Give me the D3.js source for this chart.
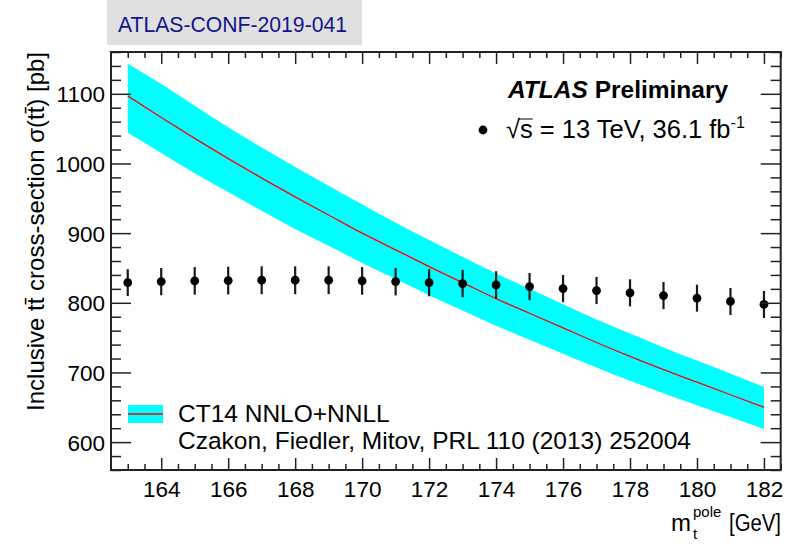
<!DOCTYPE html>
<html>
<head>
<meta charset="utf-8">
<script src="https://cdn.jsdelivr.net/npm/d3@7"></script>
<style>
  html, body { margin: 0; padding: 0; background: #fff; }
  svg { display: block; font-family: "Liberation Sans", Arial, Helvetica, sans-serif; }
</style>
</head>
<body>
<svg id="chart" width="800" height="544"></svg>
<script>
// Top-quark pole mass points [GeV]
const massPoints = [163,164,165,166,167,168,169,170,171,172,173,174,175,176,177,178,179,180,181,182];
// Measured inclusive ttbar cross-section [pb] and its uncertainty
const measured = [829.0,830.4,831.4,831.9,832.4,832.4,832.4,831.4,830.4,829.0,827.6,825.7,823.3,820.4,817.6,814.3,810.4,806.7,801.9,797.6];
const measuredErr = [19.3,19.6,19.8,19.9,20.0,20.0,20.0,19.9,19.8,19.7,19.7,19.6,19.6,19.5,19.5,19.5,19.5,19.4,19.4,19.4];
// CT14 NNLO+NNLL prediction: central value and band edges [pb]
const theoryCentral = [1097,1066,1036,1007,979,952,926,900,876,852,829,806,785,764,743,723,704,686,668,650];
const theoryUp      = [1143,1114,1083,1052,1023,995,968,941,915,890,866,842,820,798,776,756,736,717,698,679];
const theoryDown    = [1044,1015,986,959,932,906,882,857,834,811,789,767,747,727,707,688,670,653,636,619];
// Axis ticks
const xMajorTicks = [164,166,168,170,172,174,176,178,180,182];
const xMinorTicks = [163,163.5,164.5,165,165.5,166.5,167,167.5,168.5,169,169.5,170.5,171,171.5,172.5,173,173.5,174.5,175,175.5,176.5,177,177.5,178.5,179,179.5,180.5,181,181.5,182.5];
const yMajorTicks = [600,700,800,900,1000,1100];
const yMinorTicks = [560,580,620,640,660,680,720,740,760,780,820,840,860,880,920,940,960,980,1020,1040,1060,1080,1120,1140,1160];

const svg = d3.select("#chart");
const L = 111, R = 780.7, T = 52, B = 470;
const x = d3.scaleLinear().domain([162.5, 182.5]).range([L, R]);
const y = d3.scaleLinear().domain([560, 1160]).range([B, T]);

const theory = massPoints.map((m, i) => ({m, c: theoryCentral[i], up: theoryUp[i], dn: theoryDown[i]}));
const data = massPoints.map((m, i) => ({m, v: measured[i], e: measuredErr[i]}));

// conference note tag
svg.append("rect").attr("x", 107).attr("y", 0).attr("width", 255).attr("height", 45).attr("fill", "#e0e0e0");
svg.append("text").attr("x", 118).attr("y", 32).attr("font-size", 21.5).attr("fill", "#14148c")
  .attr("textLength", 229).attr("lengthAdjust", "spacingAndGlyphs")
  .text("ATLAS-CONF-2019-041");

// prediction band and central curve
svg.append("path").datum(theory)
  .attr("fill", "#00ffff")
  .attr("d", d3.area().x(d => x(d.m)).y0(d => y(d.dn)).y1(d => y(d.up)).curve(d3.curveMonotoneX));
svg.append("path").datum(theory)
  .attr("fill", "none").attr("stroke", "#ff0000").attr("stroke-width", 1.3)
  .attr("d", d3.line().x(d => x(d.m)).y(d => y(d.c)).curve(d3.curveMonotoneX));

// measured points with error bars
const pts = svg.append("g");
pts.selectAll("line").data(data).join("line")
  .attr("x1", d => x(d.m)).attr("x2", d => x(d.m))
  .attr("y1", d => y(d.v - d.e)).attr("y2", d => y(d.v + d.e))
  .attr("stroke", "#1a1a1a").attr("stroke-width", 2.2);
pts.selectAll("circle").data(data).join("circle")
  .attr("cx", d => x(d.m)).attr("cy", d => y(d.v)).attr("r", 4.4).attr("fill", "#000");

// axes with inward ticks on all four sides
function tickAxis(axisFn, scale, vals, size, pos, labels) {
  const a = axisFn(scale).tickValues(vals).tickSizeInner(-size).tickSizeOuter(0);
  a.tickFormat(labels ? d3.format("d") : "");
  const g = svg.append("g").attr("transform", pos).call(a);
  g.select(".domain").remove();
  g.selectAll(".tick line").attr("stroke", "#222").attr("stroke-width", 1.5);
  return g;
}
const xb = tickAxis(d3.axisBottom, x, xMajorTicks, 12, `translate(0,${B})`, true);
tickAxis(d3.axisBottom, x, xMinorTicks, 6, `translate(0,${B})`, false);
tickAxis(d3.axisTop, x, xMajorTicks, 12, `translate(0,${T})`, false);
tickAxis(d3.axisTop, x, xMinorTicks, 6, `translate(0,${T})`, false);
const yl = tickAxis(d3.axisLeft, y, yMajorTicks, 20, `translate(${L},0)`, true);
tickAxis(d3.axisLeft, y, yMinorTicks, 10, `translate(${L},0)`, false);
tickAxis(d3.axisRight, y, yMajorTicks, 20, `translate(${R},0)`, false);
tickAxis(d3.axisRight, y, yMinorTicks, 10, `translate(${R},0)`, false);

xb.selectAll(".tick text").attr("font-size", 22.5).attr("fill", "#000").attr("y", 11).attr("dy", "0.71em")
  .attr("font-family", "Liberation Sans, Arial, sans-serif");
yl.selectAll(".tick text").attr("font-size", 22.5).attr("fill", "#000").attr("x", -6).attr("dy", "0.36em")
  .attr("font-family", "Liberation Sans, Arial, sans-serif");

// frame
svg.append("rect").attr("x", L).attr("y", T).attr("width", R - L).attr("height", B - T)
  .attr("fill", "none").attr("stroke", "#222").attr("stroke-width", 2);

// axis titles
svg.append("text").attr("transform", `translate(44,${T}) rotate(-90)`)
  .attr("text-anchor", "end").attr("font-size", 24).attr("fill", "#000")
  .text("Inclusive tt\u0304 cross-section \u03c3(tt\u0304) [pb]");

const xt = svg.append("g").attr("fill", "#000");
xt.append("text").attr("x", 671).attr("y", 531).attr("font-size", 24).text("m");
xt.append("text").attr("x", 693).attr("y", 539).attr("font-size", 15).text("t");
xt.append("text").attr("x", 693).attr("y", 517).attr("font-size", 15).text("pole");
xt.append("text").attr("x", 729).attr("y", 531).attr("font-size", 23.5)
  .attr("textLength", 52).attr("lengthAdjust", "spacingAndGlyphs").text("[GeV]");

// experiment label
const atl = svg.append("text").attr("x", 508).attr("y", 98).attr("font-size", 24.5).attr("font-weight", "bold").attr("fill", "#000");
atl.append("tspan").attr("font-style", "italic").text("ATLAS");
atl.append("tspan").text(" Preliminary");

// data legend entry
svg.append("circle").attr("cx", 483).attr("cy", 130).attr("r", 4.4).attr("fill", "#000");
const sq = svg.append("text").attr("x", 506).attr("y", 138).attr("font-size", 25.5).attr("fill", "#000");
sq.append("tspan").text("\u221as = 13 TeV, 36.1 fb");
sq.append("tspan").attr("font-size", 16).attr("dy", -10).text("-1");
const sNode = sq.node();
const sx0 = sNode.getStartPositionOfChar(1).x, sx1 = sNode.getEndPositionOfChar(1).x;
svg.append("line").attr("x1", sx0 - 1).attr("x2", sx1).attr("y1", 119).attr("y2", 119)
  .attr("stroke", "#000").attr("stroke-width", 1);

// prediction legend entry
svg.append("rect").attr("x", 128).attr("y", 405).attr("width", 35).attr("height", 18).attr("fill", "#00ffff");
svg.append("line").attr("x1", 128).attr("x2", 163).attr("y1", 414).attr("y2", 414).attr("stroke", "#ff0000").attr("stroke-width", 1.3);
svg.append("text").attr("x", 178).attr("y", 422).attr("font-size", 24.5).attr("fill", "#000").text("CT14 NNLO+NNLL");
svg.append("text").attr("x", 178).attr("y", 449).attr("font-size", 24.5).attr("fill", "#000")
  .text("Czakon, Fiedler, Mitov, PRL 110 (2013) 252004");
</script>
</body>
</html>
